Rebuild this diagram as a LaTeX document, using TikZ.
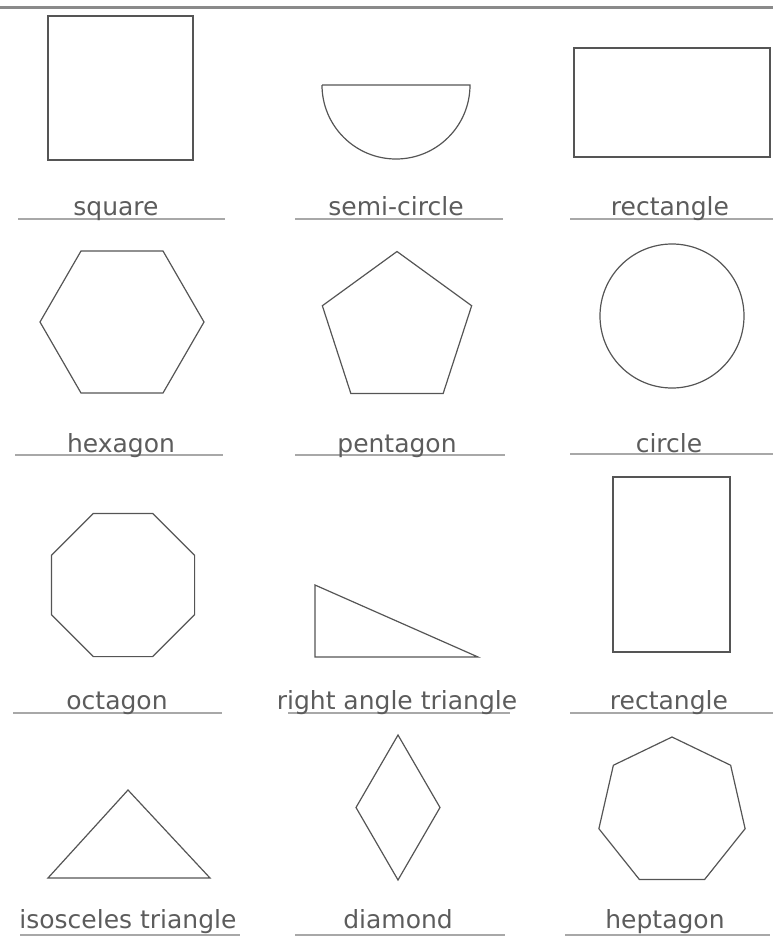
\documentclass[tikz,border=0pt]{standalone}
\usepackage{fontspec}
\setmainfont{DejaVu Sans}
\usetikzlibrary{shapes.geometric}
\definecolor{ink}{HTML}{555555}
\definecolor{rulegray}{HTML}{A8A8A8}
\definecolor{topgray}{HTML}{8A8A8A}
\definecolor{word}{HTML}{5C5C5C}

\begin{document}
\begin{tikzpicture}[
  x=1pt, y=-1pt,
  outline/.style={draw=ink, line width=1.2pt, inner sep=0pt, outer sep=0pt},
  poly/.style={outline, regular polygon, regular polygon sides=#1},
  lbl/.style={text=word, font=\fontsize{25}{29}\selectfont, anchor=base, inner sep=0pt},
  writeline/.style={draw=rulegray, line width=2pt}
]
\useasboundingbox (0,0) rectangle (773,948);
\draw[draw=topgray, line width=3pt] (0,7) -- (773,7);

% row 1
\node[outline, rectangle, minimum width=145pt, minimum height=144pt] (square) at (120.5,88) {};
\draw[outline] (322,85) -- (470,85) arc[start angle=0, end angle=180, radius=74];
\node[outline, rectangle, minimum width=196pt, minimum height=109pt] (rect1) at (672,102.5) {};

\draw[writeline] (18,219) -- (225,219);
\draw[writeline] (295,219) -- (503,219);
\draw[writeline] (570,219) -- (773,219);
\node[lbl] (tsquare) at (116,215) {square};
\node[lbl] (tsemi) at (396,215) {semi-circle};
\node[lbl] (trect1) at (670,215) {rectangle};

% row 2
\node[poly=6, minimum size=164pt] (hexagon) at (122,322) {};
\node[poly=5, minimum size=157pt] (pentagon) at (397,330) {};
\node[outline, circle, minimum size=144pt] (circ) at (672,316) {};

\draw[writeline] (15,455) -- (223,455);
\draw[writeline] (295,455) -- (505,455);
\draw[writeline] (570,454) -- (773,454);
\node[lbl] (thex) at (121,452) {hexagon};
\node[lbl] (tpent) at (397,452) {pentagon};
\node[lbl] (tcirc) at (669,452) {circle};

% row 3
\node[poly=8, minimum size=155pt] (octagon) at (123,585) {};
\draw[outline] (315,585) -- (315,657) -- (478,657) -- cycle;
\node[outline, rectangle, minimum width=117pt, minimum height=175pt] (rect2) at (671.5,564.5) {};

\draw[writeline] (13,713) -- (222,713);
\draw[writeline] (288,713) -- (510,713);
\draw[writeline] (570,713) -- (773,713);
\node[lbl] (toct) at (117,709) {octagon};
\node[lbl] (tright) at (397,709) {right angle triangle};
\node[lbl] (trect2) at (669,709) {rectangle};

% row 4
\draw[outline] (128,790) -- (210,878) -- (48,878) -- cycle;
\node[outline, diamond, minimum width=84pt, minimum height=145pt] (diamond) at (398,807.5) {};
\node[poly=7, minimum size=150pt] (heptagon) at (672,812) {};

\draw[writeline] (20,935) -- (240,935);
\draw[writeline] (295,935) -- (505,935);
\draw[writeline] (565,935) -- (770,935);
\node[lbl] (tisos) at (128,928) {isosceles triangle};
\node[lbl] (tdiam) at (398,928) {diamond};
\node[lbl] (thept) at (665,928) {heptagon};
\end{tikzpicture}
\end{document}
